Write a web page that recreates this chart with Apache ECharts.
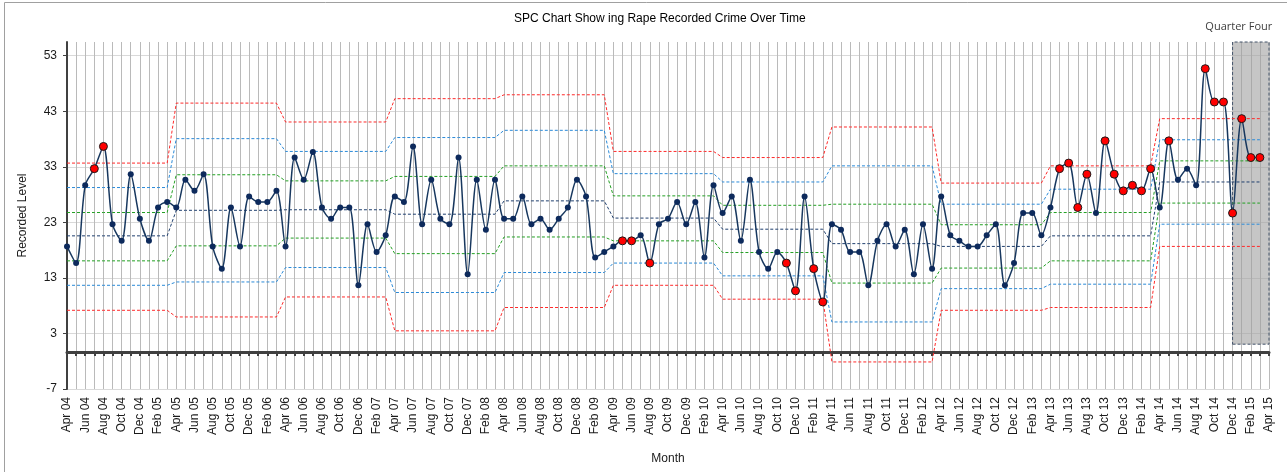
<!DOCTYPE html>
<html>
<head>
<meta charset="utf-8">
<title>SPC Chart</title>
<script src="https://cdn.jsdelivr.net/npm/echarts@6/dist/echarts.min.js"></script>
<style>
  html, body { margin: 0; padding: 0; background: #fff; }
  #chart { width: 1287px; height: 472px; }
</style>
</head>
<body>
<div id="chart"></div>
<script>
// month labels Apr 04 .. Apr 15
const monthNames = ['Jan', 'Feb', 'Mar', 'Apr', 'May', 'Jun', 'Jul', 'Aug', 'Sep', 'Oct', 'Nov', 'Dec'];
const months = [];
for (let i = 0; i < 133; i++) {
    const m = 3 + i;
    months.push(monthNames[m % 12] + ' ' + String(4 + Math.floor(m / 12)).padStart(2, '0'));
}

// recorded crimes per month, Apr 04 .. Mar 15
const recorded = [
    19, 16, 30, 33, 37, 23, 20, 32, 24, 20, 26, 27,
    26, 31, 29, 32, 19, 15, 26, 19, 28, 27, 27, 29,
    19, 35, 31, 36, 26, 24, 26, 26, 12, 23, 18, 21,
    28, 27, 37, 23, 31, 24, 23, 35, 14, 31, 22, 31,
    24, 24, 28, 23, 24, 22, 24, 26, 31, 28, 17, 18,
    19, 20, 20, 21, 16, 23, 24, 27, 23, 27, 17, 30,
    25, 28, 20, 31, 18, 15, 18, 16, 11, 28, 15, 9,
    23, 22, 18, 18, 12, 20, 23, 19, 22, 14, 23, 15,
    28, 21, 20, 19, 19, 21, 23, 12, 16, 25, 25, 21,
    26, 33, 34, 26, 32, 25, 38, 32, 29, 30, 29, 33,
    26, 38, 31, 33, 30, 51, 45, 45, 25, 42, 35, 35
];
// months flagged as special cause (red markers)
const signals = [3, 4, 61, 62, 64, 79, 80, 82, 83, 109, 110, 111, 112, 114, 115, 116,
    117, 118, 119, 121, 125, 126, 127, 128, 129, 130, 131];

// control limits per financial year (Apr-Mar), FY04/05 .. FY14/15
const ucl3 = [34.0, 44.8, 41.4, 45.6, 46.3, 36.1, 35.0, 40.5, 30.4, 33.5, 42.0];
const ucl2 = [29.6, 38.4, 36.1, 38.6, 39.9, 32.1, 30.6, 33.5, 26.6, 29.3, 38.2];
const ucl1 = [25.1, 31.9, 30.8, 31.6, 33.5, 28.1, 26.4, 26.6, 22.9, 25.1, 34.4];
const centre = [20.9, 25.5, 25.6, 24.8, 27.2, 24.1, 22.1, 19.5, 19.0, 20.9, 30.6];
const lcl1 = [16.4, 19.1, 20.5, 17.7, 20.7, 20.0, 17.9, 12.4, 15.1, 16.4, 26.8];
const lcl2 = [12.0, 12.6, 15.2, 10.7, 14.3, 16.0, 13.7, 5.4, 11.4, 12.2, 23.0];
const lcl3 = [7.5, 6.3, 9.9, 3.8, 8.0, 12.0, 9.5, -1.8, 7.5, 8.0, 19.0];

// y axis: labels shown rounded (-7, 3, ... 53)
const yMin = -6.67;
const yMax = 55.8;
const yStep = 10;

// "Quarter Four" highlight
const quarterStart = 'Dec 14';
const quarterEnd = 'Apr 15';
const shadeBottom = 1.4;

const expand = arr => months.map((m, i) => i < recorded.length ? arr[Math.floor(i / 12)] : '-');

const limitLine = (name, arr, color) => ({
    name: name,
    type: 'line',
    data: expand(arr),
    symbol: 'none',
    silent: true,
    z: 3,
    lineStyle: { color: color, width: 1, type: [3, 2] }
});

const chart = echarts.init(document.getElementById('chart'));
const option = {
    animation: false,
    textStyle: { fontFamily: 'Liberation Sans, Arial, sans-serif' },
    title: {
        text: 'SPC Chart Show ing Rape Recorded Crime Over Time',
        left: 514,
        top: 13,
        padding: 0,
        textStyle: { fontSize: 12, fontWeight: 'normal', color: '#000' }
    },
    grid: { left: 67, right: 18, top: 42, bottom: 83, outerBoundsMode: 'none' },
    xAxis: [
        {
            type: 'category',
            data: months,
            boundaryGap: false,
            position: 'bottom',
            axisLine: { show: false, onZero: false },
            axisTick: { show: false },
            axisLabel: { interval: 1, rotate: 90, margin: 8, fontSize: 12, color: '#1a1a1a' },
            splitLine: { show: true, interval: 0, lineStyle: { color: '#bababa' } },
            name: 'Month',
            nameLocation: 'middle',
            nameGap: 64,
            nameTextStyle: { fontSize: 12, color: '#1a1a1a' }
        },
        {
            type: 'category',
            data: months,
            boundaryGap: false,
            position: 'top',
            axisLine: { show: true, onZero: true, lineStyle: { color: '#404040', width: 3 } },
            axisTick: { show: true, inside: true, interval: 0, length: 4, lineStyle: { color: '#404040', width: 2 } },
            axisLabel: { show: false },
            splitLine: { show: false }
        }
    ],
    yAxis: {
        type: 'value',
        min: yMin,
        max: yMax,
        interval: yStep,
        axisLine: { show: true, lineStyle: { color: '#404040', width: 2 } },
        axisTick: { show: true, length: 4, lineStyle: { color: '#404040' } },
        axisLabel: {
            formatter: v => String(Math.round(v)),
            showMaxLabel: false,
            margin: 10,
            fontSize: 12,
            color: '#1a1a1a'
        },
        splitLine: { show: true, showMaxLine: false, lineStyle: { color: '#d9d9d9' } },
        name: 'Recorded Level',
        nameLocation: 'middle',
        nameGap: 38,
        nameTextStyle: { fontSize: 12, color: '#1a1a1a' }
    },
    graphic: [{
        type: 'rect',
        shape: { x: 4.5, y: 2.5, width: 1400, height: 600 },
        style: { fill: 'none', stroke: '#a0a0a0', lineWidth: 1 },
        silent: true
    }],
    series: [
        limitLine('UCL 3', ucl3, '#ff2a2a'),
        limitLine('UCL 2', ucl2, '#2a8ad8'),
        limitLine('UCL 1', ucl1, '#23a023'),
        limitLine('Mean', centre, '#1f3f6e'),
        limitLine('LCL 1', lcl1, '#23a023'),
        limitLine('LCL 2', lcl2, '#2a8ad8'),
        limitLine('LCL 3', lcl3, '#ff2a2a'),
        {
            name: 'Recorded',
            type: 'line',
            z: 5,
            smooth: 0.3,
            symbol: 'circle',
            symbolSize: 6,
            showAllSymbol: true,
            lineStyle: { color: '#17375e', width: 1.5 },
            itemStyle: { color: '#0d2a5c' },
            data: recorded.map((v, i) => signals.includes(i)
                ? { value: v, symbolSize: 8, itemStyle: { color: '#ff0000', borderColor: '#1a1a1a', borderWidth: 1 } }
                : v),
            markArea: {
                silent: true,
                itemStyle: { color: 'rgba(160,160,160,0.6)', borderColor: '#44546a', borderWidth: 1, borderType: [3, 2] },
                label: {
                    show: true,
                    position: 'top',
                    offset: [-12, -4],
                    fontFamily: 'Open Sans',
                    fontSize: 11,
                    color: '#404040'
                },
                data: [[
                    { name: 'Quarter Four', xAxis: quarterStart, yAxis: shadeBottom },
                    { xAxis: quarterEnd, yAxis: yMax }
                ]]
            }
        }
    ]
};
chart.setOption(option);
</script>
</body>
</html>
